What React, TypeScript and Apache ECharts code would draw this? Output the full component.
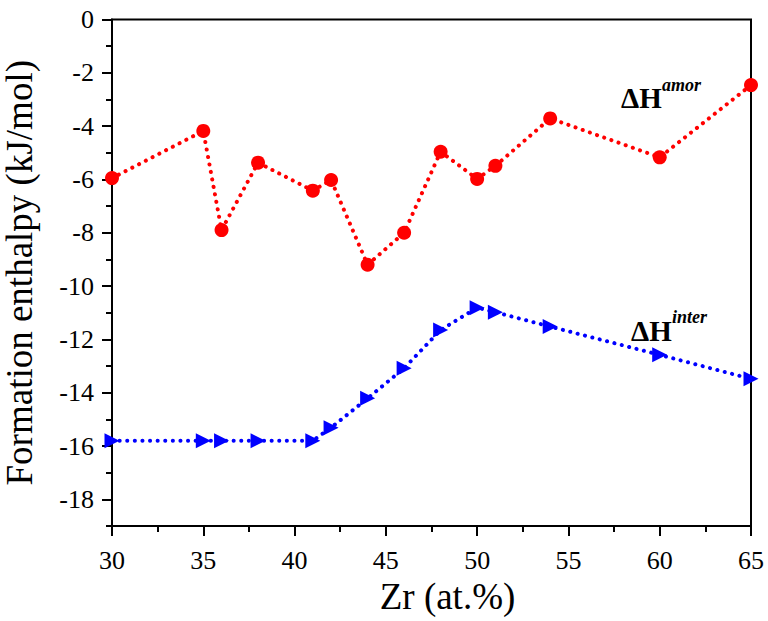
import React, { useEffect, useRef } from "react";
import * as echarts from "echarts";

const xZr = [30, 35, 36, 38, 41, 42, 44, 46, 48, 50, 51, 54, 60, 65];
const amorValues = [-5.95, -4.18, -7.9, -5.37, -6.42, -6.02, -9.2, -8.0, -4.96, -5.98, -5.49, -3.71, -5.17, -2.46];
const interValues = [-15.8, -15.8, -15.8, -15.8, -15.8, -15.31, -14.21, -13.08, -11.65, -10.81, -10.98, -11.52, -12.58, -13.48];

const xMin = 30;
const xMax = 65;
const xStep = 5;
const yMin = -19;
const yMax = 0;
const yLabelMin = -18;
const yStep = 2;

const xTitle = "Zr (at.%)";
const yTitle = "Formation enthalpy (kJ/mol)";

const FONT = "'Liberation Serif', 'Times New Roman', serif";

export default function App() {
  const ref = useRef<HTMLDivElement>(null);
  useEffect(() => {
    if (!ref.current) return;
    const chart = echarts.init(ref.current, null, { renderer: "svg" });
    const left = 112;
    const top = 19.5;
    const width = 639;
    const height = 506.5;
    const pxPerUnit = height / (yMax - yMin);
    const amorData = xZr.map((x, i) => [x, amorValues[i]]);
    const interData = xZr.map((x, i) => [x, interValues[i]]);
    const dotted = { width: 4, type: [0.1, 7.5] as any, cap: "round" as any };
    chart.setOption({
      animation: false,
      backgroundColor: "#ffffff",
      textStyle: { fontFamily: FONT },
      grid: [
        { left, top, width, height, show: true, borderColor: "#000", borderWidth: 2, backgroundColor: "transparent", outerBoundsMode: "none", containLabel: false },
        { left, top, width, height: (yMax - yLabelMin) * pxPerUnit, show: false, outerBoundsMode: "none", containLabel: false },
      ],
      xAxis: [
        {
          type: "value",
          gridIndex: 0,
          min: xMin,
          max: xMax,
          interval: xStep,
          name: xTitle,
          nameLocation: "middle",
          nameGap: 51,
          nameTextStyle: { fontFamily: FONT, fontSize: 37, color: "#000", padding: [0, 0, 0, 32] },
          axisLine: { show: true, onZero: false, lineStyle: { color: "#000", width: 2 } },
          axisTick: { show: true, inside: false, length: 10, lineStyle: { color: "#000", width: 2 } },
          minorTick: { show: true, splitNumber: 2, length: 6, lineStyle: { color: "#000", width: 2 } },
          axisLabel: { fontFamily: FONT, fontSize: 26, color: "#000", margin: 21 },
          splitLine: { show: false },
        },
        {
          type: "value",
          gridIndex: 1,
          min: xMin,
          max: xMax,
          show: false,
        },
      ],
      yAxis: [
        {
          type: "value",
          gridIndex: 0,
          min: yMin,
          max: yMax,
          interval: 1,
          name: yTitle,
          nameLocation: "middle",
          nameGap: 74,
          nameTextStyle: { fontFamily: FONT, fontSize: 37, color: "#000" },
          axisLine: { show: true, onZero: false, lineStyle: { color: "#000", width: 2 } },
          axisTick: { show: true, inside: false, length: 6, lineStyle: { color: "#000", width: 2 } },
          axisLabel: { show: false },
          splitLine: { show: false },
        },
        {
          type: "value",
          gridIndex: 1,
          min: yLabelMin,
          max: yMax,
          interval: yStep,
          axisLine: { show: false },
          axisTick: { show: true, inside: false, length: 10, lineStyle: { color: "#000", width: 2 } },
          axisLabel: { fontFamily: FONT, fontSize: 26, color: "#000", margin: 18 },
          splitLine: { show: false },
        },
      ],
      series: [
        {
          name: "amor",
          type: "line",
          xAxisIndex: 0,
          yAxisIndex: 0,
          data: amorData,
          clip: false,
          symbol: "circle",
          symbolSize: 14,
          itemStyle: { color: "#ff0000" },
          lineStyle: { color: "#ff0000", ...dotted },
          z: 3,
        },
        {
          name: "inter",
          type: "line",
          xAxisIndex: 0,
          yAxisIndex: 0,
          data: interData,
          clip: false,
          symbol: "triangle",
          symbolRotate: -90,
          symbolSize: 15,
          itemStyle: { color: "#0000ff" },
          lineStyle: { color: "#0000ff", ...dotted },
          z: 3,
        },
      ],
      graphic: [
        {
          type: "text",
          x: 621,
          y: 97.5,
          style: { text: "ΔH", font: `bold 29px ${FONT}`, fill: "#000", verticalAlign: "middle", align: "left" },
        },
        {
          type: "text",
          x: 662,
          y: 85,
          style: { text: "amor", font: `italic bold 18px ${FONT}`, fill: "#000", verticalAlign: "middle", align: "left" },
        },
        {
          type: "text",
          x: 631,
          y: 331,
          style: { text: "ΔH", font: `bold 29px ${FONT}`, fill: "#000", verticalAlign: "middle", align: "left" },
        },
        {
          type: "text",
          x: 672,
          y: 317,
          style: { text: "inter", font: `italic bold 18px ${FONT}`, fill: "#000", verticalAlign: "middle", align: "left" },
        },
      ],
    });
    return () => chart.dispose();
  }, []);
  return <div ref={ref} style={{ position: "absolute", left: 0, top: 0, width: 768, height: 621 }} />;
}
